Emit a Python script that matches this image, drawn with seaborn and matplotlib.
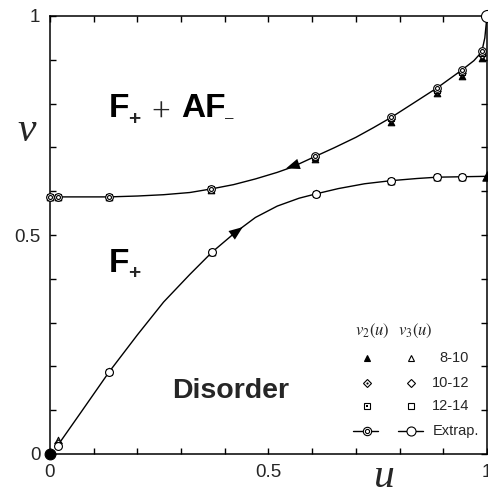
import matplotlib
matplotlib.use("Agg")
import matplotlib.pyplot as plt
import seaborn as sns
import numpy as np
from matplotlib.ticker import MultipleLocator
from matplotlib.lines import Line2D

# ---------------- data ----------------
u_v2 = [0.0, 0.018, 0.135, 0.368, 0.606, 0.780, 0.886, 0.943, 0.988]
v2_8_10 = [0.587, 0.587, 0.587, 0.602, 0.673, 0.759, 0.824, 0.863, 0.905]
v2_10_12 = [0.587, 0.587, 0.587, 0.604, 0.677, 0.764, 0.829, 0.869, 0.911]
v2_12_14 = [0.587, 0.587, 0.587, 0.604, 0.678, 0.766, 0.832, 0.872, 0.915]
v2_extrap = [0.587, 0.587, 0.587, 0.605, 0.680, 0.769, 0.836, 0.877, 0.920]

u_v3 = [0.018, 0.135, 0.371, 0.609, 0.780, 0.886, 0.943]
v3_8_10 = [0.032, 0.189, 0.462, 0.595, 0.624, 0.632, 0.633]
v3_10_12 = [0.024, 0.188, 0.461, 0.594, 0.624, 0.632, 0.633]
v3_12_14 = [0.021, 0.188, 0.461, 0.594, 0.624, 0.632, 0.633]
v3_extrap = [0.018, 0.187, 0.461, 0.594, 0.624, 0.632, 0.633]

# traced boundary lines
curve_up_u = [0.0, 0.135, 0.2, 0.26, 0.32, 0.368, 0.42, 0.47, 0.52, 0.554, 0.606, 0.65,
              0.70, 0.74, 0.78, 0.83, 0.886, 0.943, 0.97, 0.988, 0.995, 1.0]
curve_up_v = [0.587, 0.587, 0.589, 0.592, 0.597, 0.605, 0.615, 0.628, 0.643, 0.655, 0.679, 0.699,
              0.723, 0.745, 0.768, 0.800, 0.836, 0.877, 0.898, 0.918, 0.950, 1.0]
curve_lo_u = [0.018, 0.07, 0.135, 0.2, 0.26, 0.32, 0.371, 0.423, 0.47, 0.52, 0.57, 0.609,
              0.66, 0.72, 0.78, 0.84, 0.886, 0.943, 1.0]
curve_lo_v = [0.020, 0.094, 0.187, 0.272, 0.347, 0.410, 0.461, 0.505, 0.540, 0.566, 0.584, 0.594,
              0.606, 0.617, 0.624, 0.629, 0.632, 0.633, 0.634]

fixed_u = [0.0, 1.0, 1.0]
fixed_v = [0.0, 1.0, 0.634]

legend_labels = ["8-10", "10-12", "12-14", "Extrap."]

# ---------------- figure ----------------
sns.set_style("ticks")
plt.rcParams['font.family'] = ['Liberation Sans', 'DejaVu Sans']
plt.rcParams['mathtext.fontset'] = 'stix'

W, H = 489, 492
fig = plt.figure(figsize=(W / 100, H / 100), dpi=100)
ax = fig.add_axes([50 / W, 1 - 454 / H, 437 / W, 438 / H])

lw_line = 1.0
sns.lineplot(x=curve_up_u, y=curve_up_v, sort=False, color='black', lw=lw_line, ax=ax, zorder=2)
sns.lineplot(x=curve_lo_u, y=curve_lo_v, sort=False, color='black', lw=lw_line, ax=ax, zorder=2)

def sc(x, y, marker, s, face, edge='black', lw=0.8, z=3):
    sns.scatterplot(x=x, y=y, marker=marker, s=s, color=face, edgecolor=edge,
                    linewidth=lw, ax=ax, clip_on=False, zorder=z, legend=False)

# v2 series (dark/dotted markers)
sc(u_v2, v2_8_10, '^', 22, 'black', z=3)
sc(u_v2, v2_10_12, 'D', 14, 'white', z=4)
sc(u_v2, v2_10_12, 'o', 3, 'black', lw=0, z=4.1)
sc(u_v2, v2_12_14, 's', 16, 'white', z=5)
sc(u_v2, v2_12_14, 's', 3, 'black', lw=0, z=5.1)
sc(u_v2, v2_extrap, 'o', 30, 'white', z=6)
sc(u_v2, v2_extrap, 'o', 8, 'white', z=6.1)

# v3 series (open markers)
sc(u_v3, v3_8_10, '^', 22, 'white', z=3)
sc(u_v3, v3_10_12, 'D', 14, 'white', z=4)
sc(u_v3, v3_12_14, 's', 16, 'white', z=5)
sc(u_v3, v3_extrap, 'o', 32, 'white', z=6)

# end points
sc(fixed_u[:1], fixed_v[:1], 'o', 60, 'black', z=7)
sc(fixed_u[1:2], fixed_v[1:2], 'o', 75, 'white', z=7)
sc(fixed_u[2:], fixed_v[2:], '^', 45, 'black', z=7)

# flow arrows
arr = dict(arrowstyle='-|>,head_length=0.9,head_width=0.35', color='black', lw=0,
           mutation_scale=11, shrinkA=0, shrinkB=0)
ax.annotate('', xy=(0.540, 0.652), xytext=(0.575, 0.664), arrowprops=arr)
ax.annotate('', xy=(0.441, 0.518), xytext=(0.41, 0.495), arrowprops=arr)

# axes style
ax.set_xlim(0, 1)
ax.set_ylim(0, 1)
ax.set_xticks([0, 0.5, 1])
ax.set_yticks([0, 0.5, 1])
ax.set_xticklabels(['0', '0.5', '1'])
ax.set_yticklabels(['0', '0.5', '1'])
ax.xaxis.set_minor_locator(MultipleLocator(0.1))
ax.yaxis.set_minor_locator(MultipleLocator(0.1))
ax.tick_params(which='both', direction='in', top=True, right=True, length=4, width=1,
               color='black')
ax.tick_params(which='major', labelsize=13.5, pad=7)
for sp in ax.spines.values():
    sp.set_linewidth(1.1)
    sp.set_color('black')
ax.set_xlabel('')
ax.set_ylabel('')

# axis labels (italic serif)
fig.text(27 / W, 1 - 131 / H, 'v', fontfamily='Liberation Serif', style='italic',
         fontsize=30, ha='center', va='center')
fig.text(384 / W, 1 - 477 / H, 'u', fontfamily='Liberation Serif', style='italic',
         fontsize=30, ha='center', va='center')

# region labels
bold = dict(fontweight='bold', fontsize=24, color='black')
ax.text(0.135, 0.769, 'F', ha='left', va='baseline', **bold)
ax.text(0.193, 0.764, '+', ha='center', va='center', fontweight='bold', fontsize=15)
ax.text(0.254, 0.778, '+', ha='center', va='center', fontfamily='Liberation Serif', fontsize=24)
ax.text(0.300, 0.769, 'AF', ha='left', va='baseline', **bold)
ax.text(0.410, 0.767, '\u2013', ha='center', va='center', fontsize=11)
ax.text(0.135, 0.416, 'F', ha='left', va='baseline', **bold)
ax.text(0.193, 0.411, '+', ha='center', va='center', fontweight='bold', fontsize=15)
ax.text(0.279, 0.128, 'Disorder', ha='left', va='baseline', fontweight='bold', fontsize=20.5)

# ---------------- legend (manual) ----------------
def fx(px):
    return px / W

def fy(py):
    return 1 - py / H

fig.text(fx(372), fy(331), r'$v_2(u)$', ha='center', va='center', fontsize=12)
fig.text(fx(415), fy(331), r'$v_3(u)$', ha='center', va='center', fontsize=12)

def lm(x, y, marker, ms, face, mew=0.8, ls='none', xs=None):
    xx = [fx(x)] if xs is None else [fx(v) for v in xs]
    yy = [fy(y)] * len(xx)
    fig.add_artist(Line2D(xx, yy, marker=marker if xs is None else None, ms=ms,
                          mfc=face, mec='black', mew=mew, ls=ls, color='black', lw=1.0,
                          transform=fig.transFigure))

rows_y = [358, 383, 406, 431]
x2, x3 = 367, 411
# 8-10
lm(x2, rows_y[0], '^', 5, 'black')
lm(x3, rows_y[0], '^', 5, 'white')
# 10-12
lm(x2, rows_y[1], 'D', 4, 'white')
lm(x2, rows_y[1], 'o', 1.6, 'black', mew=0)
lm(x3, rows_y[1], 'D', 4, 'white')
# 12-14
lm(x2, rows_y[2], 's', 4.5, 'white')
lm(x2, rows_y[2], 's', 1.8, 'black', mew=0)
lm(x3, rows_y[2], 's', 4.5, 'white')
# Extrap
lm(0, rows_y[3], None, 0, 'white', ls='-', xs=[353, 378])
lm(0, rows_y[3], None, 0, 'white', ls='-', xs=[398, 423])
lm(x2, rows_y[3], 'o', 6, 'white')
lm(x2, rows_y[3], 'o', 3, 'white')
lm(x3, rows_y[3], 'o', 6.5, 'white')

label_x = [439, 432, 432, 433]
for lab, lx, ly in zip(legend_labels, label_x, rows_y):
    fig.text(fx(lx), fy(ly), lab, ha='left', va='center', fontsize=10.5)

fig.savefig('out.png', dpi=100)
